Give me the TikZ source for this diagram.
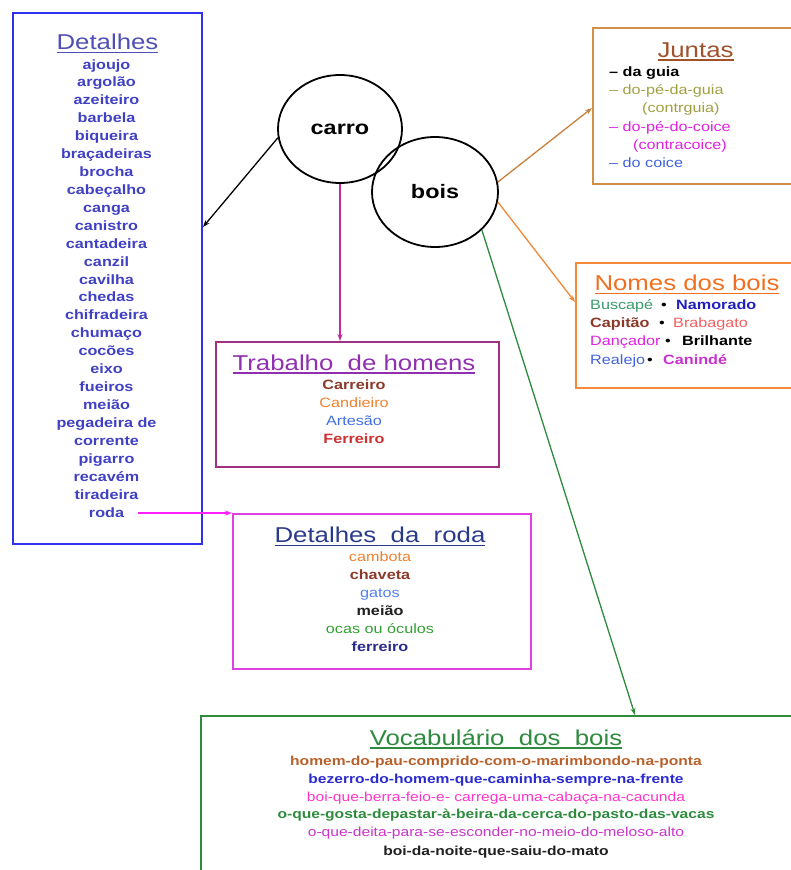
\documentclass[tikz,border=0pt]{standalone}
\usepackage{fontspec}
\setmainfont{Liberation Sans}[FakeStretch=1.2]
\usetikzlibrary{shapes.geometric,arrows.meta,calc}
\definecolor{detblue}{RGB}{64,64,196}
\definecolor{detborder}{RGB}{48,48,240}
\definecolor{dettitle}{RGB}{80,80,180}
\definecolor{jborder}{RGB}{208,144,72}
\definecolor{jtitle}{RGB}{160,82,45}
\definecolor{olivey}{RGB}{160,160,64}
\definecolor{magn}{RGB}{224,32,224}
\definecolor{jblue}{RGB}{64,96,224}
\definecolor{nborder}{RGB}{245,138,58}
\definecolor{ntitle}{RGB}{240,112,32}
\definecolor{tealg}{RGB}{58,154,106}
\definecolor{navyb}{RGB}{32,32,192}
\definecolor{brownr}{RGB}{139,58,42}
\definecolor{salmon}{RGB}{240,96,96}
\definecolor{purpm}{RGB}{200,48,208}
\definecolor{tborder}{RGB}{160,48,128}
\definecolor{ttitle}{RGB}{144,48,176}
\definecolor{orng}{RGB}{240,128,48}
\definecolor{artblue}{RGB}{64,112,224}
\definecolor{ferred}{RGB}{208,48,48}
\definecolor{rborder}{RGB}{224,64,224}
\definecolor{rtitle}{RGB}{42,58,138}
\definecolor{gatblue}{RGB}{80,128,240}
\definecolor{ocgreen}{RGB}{48,160,48}
\definecolor{navyd}{RGB}{42,42,138}
\definecolor{vgreen}{RGB}{46,139,62}
\definecolor{homor}{RGB}{184,96,42}
\definecolor{bezblue}{RGB}{42,42,208}
\definecolor{boipink}{RGB}{255,51,204}
\definecolor{deitam}{RGB}{204,51,204}
\definecolor{darkk}{RGB}{32,32,32}
\definecolor{carrotrab}{RGB}{192,44,160}
\definecolor{rodaarrow}{RGB}{255,32,255}
\definecolor{juntarrow}{RGB}{200,128,60}
\definecolor{nomearrow}{RGB}{240,136,56}
\newcommand\myul[1]{\setbox0\hbox{#1}\rlap{\rule[-3.5pt]{\wd0}{1.4pt}}\box0}
\tikzset{
  boxnode/.style={draw, line width=2pt, rectangle, anchor=north west, inner sep=0pt},
  ttl/.style={anchor=base, inner sep=0pt, font=\fontsize{21.5}{24}\selectfont},
  itb/.style={anchor=base, inner sep=0pt, font=\fontsize{13.5}{16}\selectfont\bfseries},
  itr/.style={anchor=base, inner sep=0pt, font=\fontsize{13.5}{16}\selectfont},
  vtb/.style={anchor=base, inner sep=0pt, font=\fontsize{13}{16}\selectfont\bfseries},
  vtr/.style={anchor=base, inner sep=0pt, font=\fontsize{13}{16}\selectfont},
  ell/.style={ellipse, draw, line width=1.8pt, inner sep=0pt, font=\fontsize{19.5}{22}\selectfont\bfseries},
  conn/.style={line width=1.3pt, -{Stealth[length=7pt,width=5pt]}}
}
\begin{document}
\begin{tikzpicture}[x=1pt,y=-1pt]
\useasboundingbox (0,0) rectangle (791,870);
\clip (0,0) rectangle (791,870);
% boxes
\node[boxnode, draw=detborder, minimum width=189, minimum height=531] (det) at (12,12) {};
\node[boxnode, draw=jborder, minimum width=205, minimum height=156] (juntas) at (592,27) {};
\node[boxnode, draw=nborder, minimum width=222, minimum height=125] (nomes) at (575,262) {};
\node[boxnode, draw=tborder, minimum width=283, minimum height=125] (trab) at (215,341) {};
\node[boxnode, draw=rborder, minimum width=298, minimum height=155] (roda) at (232,513) {};
\node[boxnode, draw=vgreen, minimum width=597, minimum height=200] (vocab) at (200,715) {};
% ellipses
\node[ell, minimum width=124, minimum height=108] (carro) at (340,129) {carro};
\node[ell, minimum width=126, minimum height=110] (bois) at (435,192) {bois};
% Detalhes
\node[ttl, text=dettitle] (dett) at (det.north |- 0,49.5) {\myul{Detalhes}};
\foreach \t [count=\i from 0] in {ajoujo,argolão,azeiteiro,barbela,biqueira,braçadeiras,brocha,cabeçalho,canga,canistro,cantadeira,canzil,cavilha,chedas,chifradeira,chumaço,cocões,eixo,fueiros,meião,pegadeira de,corrente,pigarro,recavém,tiradeira,roda}
  \node[itb, text=detblue] (d\i) at (106.5,69+17.92*\i) {\t};
% Juntas
\node[ttl, text=jtitle] (jt) at (juntas.north |- 0,57) {\myul{Juntas}};
\node[itb, anchor=base west, text=black] (j1) at (609,76.5) {– da guia};
\node[itr, anchor=base west, text=olivey] (j2) at (609,94.5) {– do-pé-da-guia};
\node[itr, anchor=base west, text=olivey] (j3) at (642,112.5) {(contrguia)};
\node[itr, anchor=base west, text=magn] (j4) at (609,131.5) {– do-pé-do-coice};
\node[itr, anchor=base west, text=magn] (j5) at (633,149.5) {(contracoice)};
\node[itr, anchor=base west, text=jblue] (j6) at (609,167.5) {– do coice};
% Nomes dos bois
\node[ttl, text=ntitle] (nt) at (nomes.north |- 0,290.5) {\myul{Nomes dos bois}};
\node[itr, anchor=base west] (n1) at (590,309.5) {\rlap{\color{tealg}Buscapé}\rlap{\kern71pt•}\kern86pt{\bfseries\color{navyb}Namorado}};
\node[itr, anchor=base west] (n2) at (590,327.5) {\rlap{\bfseries\color{brownr}Capitão}\rlap{\kern69pt•}\kern83pt{\color{salmon}Brabagato}};
\node[itr, anchor=base west] (n3) at (590,345.5) {\rlap{\color{magn}Dançador}\rlap{\kern75pt•}\kern92pt{\bfseries\color{black}Brilhante}};
\node[itr, anchor=base west] (n4) at (590,364.5) {\rlap{\color{jblue}Realejo}\rlap{\kern57pt•}\kern73pt{\bfseries\color{purpm}Canindé}};
% Trabalho de homens
\node[ttl, text=ttitle] (tt) at (354,370) {\myul{Trabalho\ \ de homens}};
\node[itb, text=brownr] (t1) at (354,389) {Carreiro};
\node[itr, text=orng] (t2) at (354,407) {Candieiro};
\node[itr, text=artblue] (t3) at (354,425) {Artesão};
\node[itb, text=ferred] (t4) at (354,443) {Ferreiro};
% Detalhes da roda
\node[ttl, text=rtitle] (rt) at (380,542.5) {\myul{Detalhes\ \ da\ \ roda}};
\node[itr, text=orng] (r1) at (380,561) {cambota};
\node[itb, text=brownr] (r2) at (380,579) {chaveta};
\node[itr, text=gatblue] (r3) at (380,597) {gatos};
\node[itb, text=darkk] (r4) at (380,615) {meião};
\node[itr, text=ocgreen] (r5) at (380,633) {ocas ou óculos};
\node[itb, text=navyd] (r6) at (380,651) {ferreiro};
% Vocabulario dos bois
\node[ttl, text=vgreen] (vt) at (496,745) {\myul{Vocabulário\ \ dos\ \ bois}};
\node[vtb, text=homor] (v1) at (496,765) {homem-do-pau-comprido-com-o-marimbondo-na-ponta};
\node[vtb, text=bezblue] (v2) at (496,783) {bezerro-do-homem-que-caminha-sempre-na-frente};
\node[vtr, text=boipink] (v3) at (496,801) {boi-que-berra-feio-e- carrega-uma-cabaça-na-cacunda};
\node[vtb, text=vgreen] (v4) at (496,818) {o-que-gosta-depastar-à-beira-da-cerca-do-pasto-das-vacas};
\node[vtr, text=deitam] (v5) at (496,836) {o-que-deita-para-se-esconder-no-meio-do-meloso-alto};
\node[vtb, text=darkk] (v6) at (496,855) {boi-da-noite-que-saiu-do-mato};
% connectors
\draw[conn, black] (carro.188) -- (det.east |- 0,227);
\draw[conn, carrotrab] (carro.south) -- (carro.south |- trab.north);
\draw[conn, juntarrow] (bois.9) -- (juntas.west |- 0,108);
\draw[conn, nomearrow] (bois.-9) -- (nomes.west |- 0,302);
\draw[conn, vgreen] (bois.-39) -- (vocab.north -| 635,0);
\coordinate (rs) at (138,513);
\draw[conn, rodaarrow] (rs) -- (rs -| roda.west);
\end{tikzpicture}
\end{document}
